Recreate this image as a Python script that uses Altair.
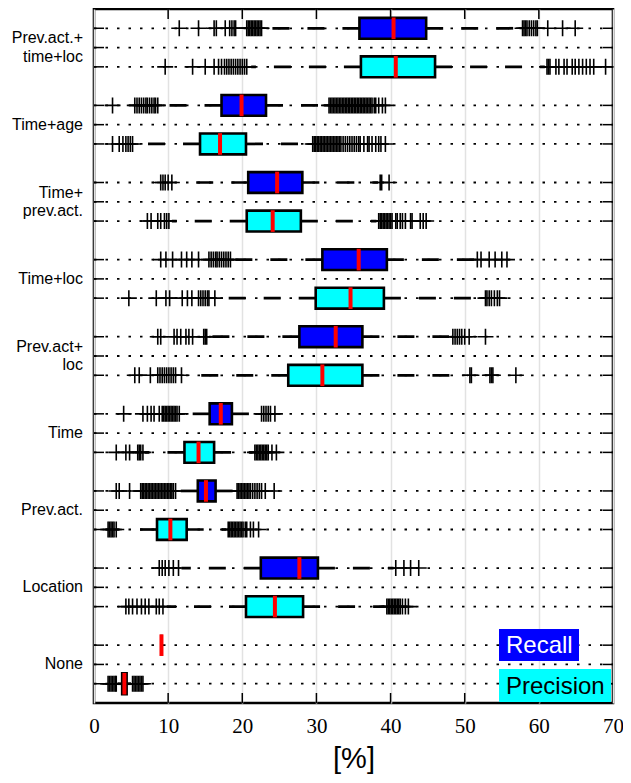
import altair as alt
import pandas as pd

categories = ["Prev.act.+\ntime+loc", "Time+age", "Time+\nprev.act.", "Time+loc",
              "Prev.act+\nloc", "Time", "Prev.act.", "Location", "None"]

recall_q1 = [35.8, 17.2, 20.8, 30.8, 27.7, 15.6, 14.0, 22.5, 9.1]
recall_med = [40.4, 19.9, 24.7, 35.7, 32.6, 17.1, 15.1, 27.7, 9.1]
recall_q3 = [44.8, 23.2, 28.1, 39.5, 36.2, 18.6, 16.4, 30.2, 9.1]
recall_lo = [23.0, 8.9, 11.4, 18.7, 15.6, 11.8, 11.3, 11.8, 9.1]
recall_hi = [57.5, 31.5, 38.3, 51.3, 47.9, 22.3, 19.0, 40.4, 9.1]

precision_q1 = [36.0, 14.3, 20.6, 29.9, 26.2, 12.2, 8.5, 20.5, 3.8]
precision_med = [40.7, 17.0, 24.1, 34.6, 30.8, 14.1, 10.3, 24.4, 4.1]
precision_q3 = [46.0, 20.5, 27.9, 39.1, 36.2, 16.2, 12.5, 28.2, 4.4]
precision_lo = [21.2, 5.5, 10.5, 16.6, 12.1, 6.9, 4.0, 9.8, 3.2]
precision_hi = [60.8, 29.3, 38.1, 52.4, 50.4, 21.4, 17.8, 39.2, 5.0]

recall_outliers = [
    [11.5, 14.1, 16.2, 16.5, 17.7, 18.3, 18.6, 18.9, 19.1, 20.6, 20.8, 21.0, 21.2, 21.4, 21.6,
     21.8, 22.0, 22.2, 22.4, 22.6, 57.8, 58.0, 58.2, 58.4, 58.7, 59.0, 59.3, 59.6, 59.8, 61.2,
     63.2, 64.9],
    [2.5, 5.5, 5.8, 6.1, 6.4, 6.7, 7.0, 7.2, 7.5, 7.8, 8.1, 8.3, 8.6, 31.7, 31.9, 32.1, 32.3,
     32.5, 32.7, 32.9, 33.1, 33.3, 33.5, 33.7, 33.9, 34.1, 34.3, 34.5, 34.7, 34.9, 35.1, 35.3,
     35.5, 35.7, 35.9, 36.1, 36.3, 36.5, 36.7, 36.9, 37.1, 37.3, 37.5, 37.8, 38.0, 38.4, 38.9,
     39.3],
    [9.0, 9.3, 9.6, 10.0, 10.5, 38.6, 38.8, 39.8],
    [9.0, 9.7, 10.6, 11.8, 12.5, 13.2, 14.1, 15.5, 15.8, 16.1, 16.4, 16.6, 16.9, 17.2, 17.5,
     17.8, 18.1, 18.4, 51.7, 52.2, 53.3, 54.1, 55.0, 55.7],
    [8.6, 9.0, 10.8, 11.2, 11.7, 12.4, 12.8, 13.3, 14.8, 15.0, 15.2, 48.4, 48.7, 49.0, 49.3,
     49.6, 50.0, 50.6, 52.8],
    [4.0, 6.6, 7.2, 7.7, 8.1, 8.8, 9.2, 9.4, 9.6, 9.8, 10.0, 10.2, 10.4, 10.6, 10.8, 11.0, 11.2,
     11.5, 22.6, 22.9, 23.2, 23.5, 23.8, 24.4],
    [3.0, 3.4, 4.8, 6.3, 6.5, 6.7, 6.9, 7.1, 7.3, 7.5, 7.7, 7.9, 8.1, 8.3, 8.5, 8.7, 8.9, 9.1,
     9.3, 9.5, 9.7, 9.9, 10.1, 10.3, 10.5, 10.7, 11.0, 19.3, 19.5, 19.7, 19.9, 20.1, 20.3, 20.5,
     20.7, 20.9, 21.1, 21.4, 21.7, 22.0, 22.3, 22.6, 23.1, 24.3],
    [8.8, 9.2, 9.6, 10.1, 10.7, 11.4, 40.7, 41.8, 42.7, 43.8],
    [],
]
precision_outliers = [
    [9.6, 13.3, 15.0, 16.2, 16.8, 17.2, 17.6, 17.9, 18.2, 18.5, 18.8, 19.1, 19.4, 19.7, 20.0,
     20.3, 20.6, 61.1, 61.3, 61.5, 62.3, 62.7, 63.4, 63.8, 64.5, 64.9, 65.4, 65.9, 66.4, 66.9,
     67.4, 69.0],
    [2.5, 3.4, 3.9, 4.3, 4.6, 4.9, 5.2, 29.5, 29.7, 29.9, 30.1, 30.3, 30.5, 30.7, 30.9, 31.1,
     31.3, 31.5, 31.7, 31.9, 32.1, 32.3, 32.5, 32.7, 32.9, 33.1, 33.3, 33.6, 33.9, 34.2, 34.5,
     34.8, 35.1, 35.4, 35.7, 35.9, 36.4, 36.9, 37.1, 37.5, 38.0, 38.4, 38.7, 39.3],
    [7.2, 7.7, 8.6, 9.0, 9.5, 9.8, 10.1, 38.4, 38.6, 38.8, 39.0, 39.2, 39.4, 39.6, 39.8, 40.0,
     40.2, 40.7, 40.9, 41.3, 41.6, 42.0, 42.7, 42.9, 44.0, 44.4, 44.8],
    [4.7, 8.4, 9.7, 10.2, 11.9, 12.6, 13.2, 14.1, 14.4, 14.7, 15.0, 15.3, 15.5, 16.3, 52.8, 53.0,
     53.3, 53.6, 54.0, 54.4, 54.7],
    [5.5, 6.1, 7.6, 8.6, 8.9, 9.2, 9.5, 9.8, 10.1, 10.4, 10.7, 11.0, 11.8, 50.7, 50.9, 53.4,
     53.6, 53.8, 56.9],
    [3.0, 4.3, 4.8, 5.9, 6.1, 6.3, 6.6, 21.7, 21.9, 22.1, 22.3, 22.5, 22.7, 22.9, 23.1, 23.3,
     23.5, 24.0, 24.6],
    [1.9, 2.1, 2.3, 2.5, 2.7, 3.0, 18.1, 18.3, 18.5, 18.7, 18.9, 19.1, 19.3, 19.5, 19.7, 19.9,
     20.1, 20.4, 20.6, 21.1, 21.5, 22.2],
    [4.3, 4.7, 5.2, 5.8, 6.4, 6.9, 7.4, 8.4, 8.8, 9.3, 39.5, 39.7, 39.9, 40.1, 40.3, 40.5, 40.7,
     40.9, 41.1, 41.3, 41.6, 42.0, 42.4],
    [1.9, 2.1, 2.3, 2.5, 2.7, 2.9, 3.0, 5.2, 5.4, 5.6, 5.8, 6.0, 6.2, 6.4, 6.6],
]

x_ticks = [0, 10, 20, 30, 40, 50, 60, 70]
series_names = ["Recall", "Precision"]
series_colors = ["#0000ff", "#00ffff"]

# ---- tables built from the arrays ----
box_rows, out_rows, line_rows, label_rows = [], [], [], []
for i, cat in enumerate(categories):
    label_rows.append({"label": cat, "pos": i + 0.5, "nlines": cat.count("\n") + 1})
    for k in (0.25, 0.5, 0.75):
        line_rows.append({"pos": i + k})
    for s, off, q1, med, q3, lo, hi, outs in [
        ("Recall", 0.25, recall_q1, recall_med, recall_q3, recall_lo, recall_hi, recall_outliers),
        ("Precision", 0.75, precision_q1, precision_med, precision_q3, precision_lo, precision_hi,
         precision_outliers),
    ]:
        box_rows.append({"series": s, "pos": i + off, "q1": q1[i], "med": med[i], "q3": q3[i],
                         "lo": lo[i], "hi": hi[i]})
        for v in outs[i]:
            out_rows.append({"series": s, "pos": i + off, "value": v})

boxes = pd.DataFrame(box_rows)
outliers = pd.DataFrame(out_rows)
lines = pd.DataFrame(line_rows)
labels = pd.DataFrame(label_rows)
ticks = pd.DataFrame({"x": x_ticks[1:-1]})
one = pd.DataFrame({"k": [0]})

W, H = 519, 694
XS = alt.Scale(domain=[0, 70], nice=False, zero=False)
YS = alt.Scale(domain=[0, 9], reverse=True, nice=False, zero=False)
XAX = alt.Axis(values=x_ticks, grid=True, gridColor="#e2e2e2", gridWidth=1.5, ticks=False,
               domain=False, labelFont="Liberation Serif", labelFontSize=21, labelColor="black",
               labelPadding=12, labelFlush=False, title="[%]", titleFont="Liberation Sans",
               titleFontSize=29, titleFontWeight="normal", titleColor="black", titlePadding=8)
COLOR = alt.Color("series:N", scale=alt.Scale(domain=series_names, range=series_colors), legend=None)

grid_rows = alt.Chart(lines).mark_rule(color="black", strokeWidth=1.8, strokeDash=[2.5, 9]).encode(
    x=alt.X("xa:Q", scale=XS, axis=XAX), x2="xb:Q",
    y=alt.Y("pos:Q", scale=YS, axis=None),
).transform_calculate(xa="0", xb="70")

whisk_hi = alt.Chart(boxes).mark_rule(color="black", strokeWidth=2.7, strokeDash=[17, 18]).encode(
    x=alt.X("q3:Q", scale=XS, axis=XAX), x2="hi:Q", y=alt.Y("pos:Q", scale=YS, axis=None))
whisk_lo = alt.Chart(boxes).mark_rule(color="black", strokeWidth=2.7, strokeDash=[17, 18]).encode(
    x=alt.X("q1:Q", scale=XS, axis=XAX), x2="lo:Q", y=alt.Y("pos:Q", scale=YS, axis=None))

PLUS = "M-1,0L1,0M0,-1L0,1"
outs = alt.Chart(outliers).mark_point(shape=PLUS, filled=False, size=256, strokeWidth=1.6,
                                       color="black", opacity=1).encode(
    x=alt.X("value:Q", scale=XS, axis=XAX), y=alt.Y("pos:Q", scale=YS, axis=None))

rects = alt.Chart(boxes).mark_rect(stroke="black", strokeWidth=2.6).encode(
    x=alt.X("q1:Q", scale=XS, axis=XAX), x2="q3:Q",
    y=alt.Y("ya:Q", scale=YS, axis=None), y2="yb:Q", color=COLOR,
).transform_calculate(ya="datum.pos - 0.135", yb="datum.pos + 0.135")

meds = alt.Chart(boxes).mark_rule(color="#ff0000", strokeWidth=4).encode(
    x=alt.X("med:Q", scale=XS, axis=XAX),
    y=alt.Y("ya:Q", scale=YS, axis=None), y2="yb:Q",
).transform_calculate(ya="datum.pos - 0.14", yb="datum.pos + 0.14")

xt_top = alt.Chart(ticks).mark_rule(color="black", strokeWidth=1.5).encode(
    x=alt.X("x:Q", scale=XS, axis=XAX), y=alt.value(0), y2=alt.value(10))
xt_bot = alt.Chart(ticks).mark_rule(color="black", strokeWidth=1.5).encode(
    x=alt.X("x:Q", scale=XS, axis=XAX), y=alt.value(H), y2=alt.value(H - 10))
yt_l = alt.Chart(lines).mark_rule(color="black", strokeWidth=1.5).encode(
    y=alt.Y("pos:Q", scale=YS, axis=None), x=alt.value(0), x2=alt.value(10))
yt_r = alt.Chart(lines).mark_rule(color="black", strokeWidth=1.5).encode(
    y=alt.Y("pos:Q", scale=YS, axis=None), x=alt.value(W), x2=alt.value(W - 10))

ylab1 = alt.Chart(labels).transform_filter("datum.nlines == 1").mark_text(
    align="right", baseline="middle", font="Liberation Sans", fontSize=16, color="black").encode(
    y=alt.Y("pos:Q", scale=YS, axis=None), x=alt.value(-11), text="label:N")
ylab2 = alt.Chart(labels).transform_filter("datum.nlines == 2").mark_text(
    align="right", baseline="middle", font="Liberation Sans", fontSize=16, color="black",
    lineBreak="\n", lineHeight=18.5, dy=-9.25).encode(
    y=alt.Y("pos:Q", scale=YS, axis=None), x=alt.value(-11), text="label:N")

leg_r_box = alt.Chart(one).mark_rect(color="#0000ff").encode(
    x=alt.value(405), x2=alt.value(485), y=alt.value(620), y2=alt.value(652))
leg_p_box = alt.Chart(one).mark_rect(color="#00ffff").encode(
    x=alt.value(405), x2=alt.value(517), y=alt.value(660), y2=alt.value(693))
leg_r_txt = alt.Chart(one).mark_text(text="Recall", align="left", baseline="alphabetic",
                                      font="Liberation Sans", fontSize=24, color="white").encode(
    x=alt.value(412), y=alt.value(644))
leg_p_txt = alt.Chart(one).mark_text(text="Precision", align="left", baseline="alphabetic",
                                      font="Liberation Sans", fontSize=24, color="black").encode(
    x=alt.value(412), y=alt.value(685))

chart = alt.layer(
    grid_rows, whisk_hi, whisk_lo, outs, rects, meds, xt_top, xt_bot, yt_l, yt_r, ylab1, ylab2,
    leg_r_box, leg_p_box, leg_r_txt, leg_p_txt,
).properties(
    width=W, height=H,
    autosize=alt.AutoSizeParams(type="none"),
    padding={"left": 86, "top": 1, "right": 10, "bottom": 72},
).configure_view(stroke="black", strokeWidth=2.6)

chart.save("out.html", embed_options={"renderer": "svg", "actions": False})
